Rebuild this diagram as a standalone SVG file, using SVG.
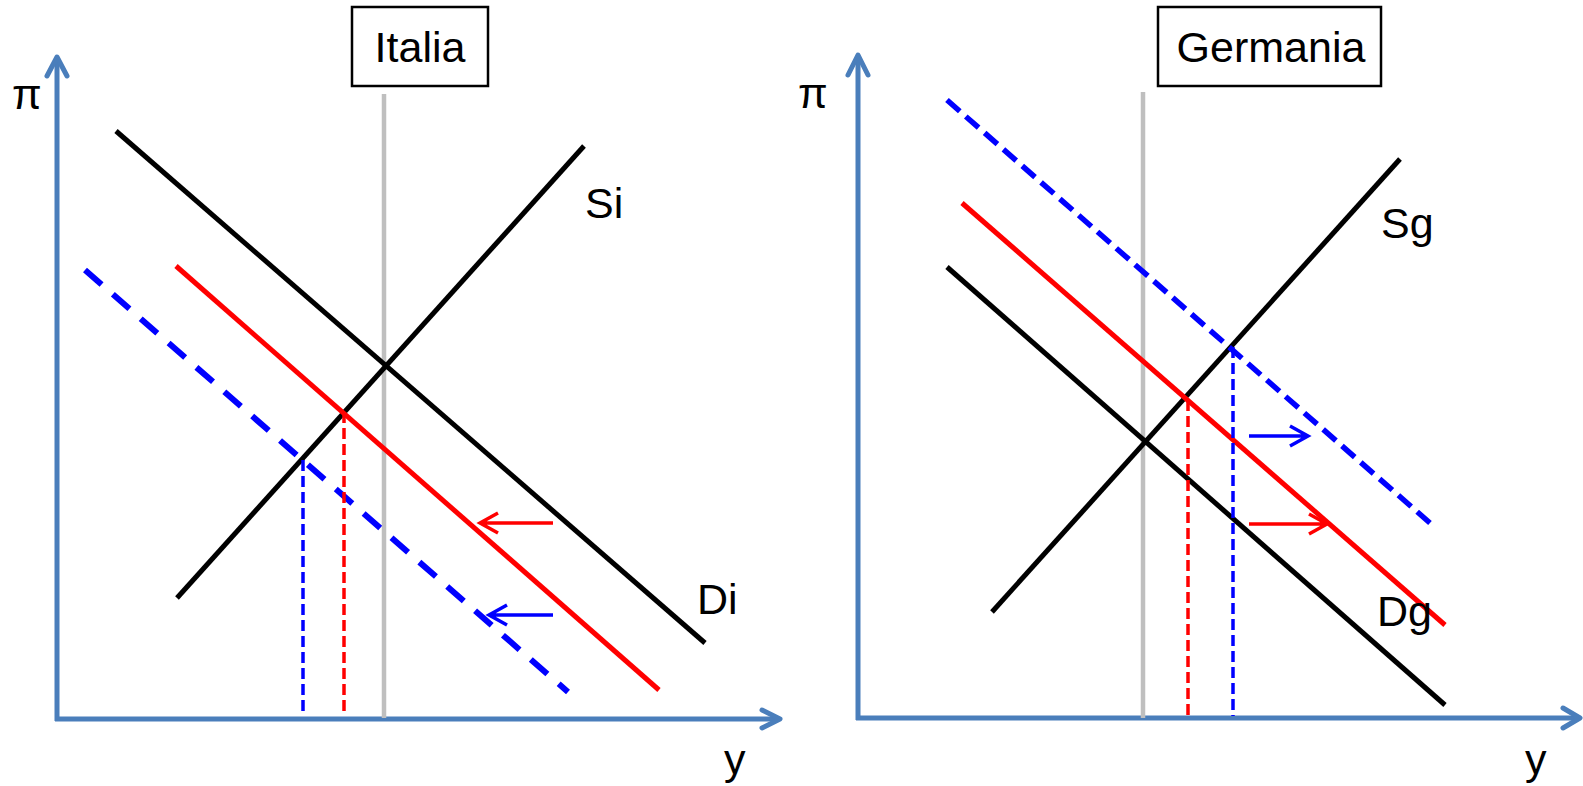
<svg xmlns="http://www.w3.org/2000/svg" width="1583" height="786" viewBox="0 0 1583 786">
<style>
.axis{stroke:#4A7EBB;stroke-width:5;fill:none}
.head{stroke:#4A7EBB;stroke-width:5;fill:none;stroke-linecap:round;stroke-linejoin:round}
.blk{stroke:#000;stroke-width:5;fill:none}
.red{stroke:#FF0000;stroke-width:5;fill:none}
.gray{stroke:#BFBFBF;stroke-width:4.5;fill:none}
.bdl{stroke:#0000FF;stroke-width:6;fill:none;stroke-dasharray:22 15}
.bdr{stroke:#0000FF;stroke-width:5.5;fill:none;stroke-dasharray:17 8}
.rv{stroke:#FF0000;stroke-width:3.5;fill:none;stroke-dasharray:11 5}
.bv{stroke:#0000FF;stroke-width:3.5;fill:none;stroke-dasharray:11 5}
.arR{stroke:#FF0000;stroke-width:3.5;fill:none}
.arB{stroke:#0000FF;stroke-width:3.5;fill:none}
.lbl{font-family:"Liberation Sans",Arial,sans-serif;font-size:43px;fill:#000}
.box{fill:#fff;stroke:#000;stroke-width:2.5}
</style>
<g id="italia-title">
<rect class="box" x="352" y="7" width="136" height="79"/>
<text class="lbl" x="420" y="62" text-anchor="middle">Italia</text>
</g>
<g id="germania-title">
<rect class="box" x="1158" y="7" width="223" height="79"/>
<text class="lbl" x="1271" y="62" text-anchor="middle">Germania</text>
</g>
<g id="axes-left">
<path class="axis" d="M57,721 V58 M55,719 H779"/>
<path class="head" d="M47,76 L57,57 L67,76"/>
<path class="head" d="M762,710 L780,719 L762,728"/>
<text class="lbl" x="12" y="109">π</text>
<text class="lbl" x="724" y="774">y</text>
</g>
<g id="axes-right">
<path class="axis" d="M858,720 V56 M856,718 H1578"/>
<path class="head" d="M848,75 L858,55 L868,75"/>
<path class="head" d="M1563,708 L1580,718 L1563,728"/>
<text class="lbl" x="798" y="108">π</text>
<text class="lbl" x="1525" y="774">y</text>
</g>
<g id="connectors">
<g id="italia-curves">
<line class="gray" x1="384" y1="94" x2="384" y2="718"/>
<line id="Di" class="blk" x1="116" y1="131" x2="705" y2="643"/>
<line id="Si" class="blk" x1="177" y1="598" x2="584" y2="146"/>
<line id="Di-red" class="red" x1="176" y1="266" x2="659" y2="690"/>
<line id="Di-blue" class="bdl" x1="85" y1="270" x2="568" y2="692"/>
<line class="rv" x1="344" y1="412" x2="344" y2="716"/>
<line class="bv" x1="303" y1="460" x2="303" y2="716"/>
<path class="arR" d="M553,523 H480 M498,513 L480,523 L498,533"/>
<path class="arB" d="M553,615 H489 M507,605 L489,615 L507,625"/>
</g>
<g id="germania-curves">
<line class="gray" x1="1143" y1="92" x2="1143" y2="718"/>
<line id="Dg" class="blk" x1="947" y1="267" x2="1445" y2="705"/>
<line id="Sg" class="blk" x1="992" y1="612" x2="1400" y2="159"/>
<line id="Dg-red" class="red" x1="962" y1="203" x2="1445" y2="625"/>
<line id="Dg-blue" class="bdr" x1="947" y1="100" x2="1430" y2="523"/>
<line class="rv" x1="1188" y1="400" x2="1188" y2="716"/>
<line class="bv" x1="1233" y1="347" x2="1233" y2="716"/>
<path class="arB" d="M1249,436 H1308 M1290,426 L1308,436 L1290,446"/>
<path class="arR" d="M1249,524 H1327 M1309,514 L1327,524 L1309,534"/>
</g>
</g>
<g id="labels">
<text class="lbl" x="585" y="218">Si</text>
<text class="lbl" x="697" y="614">Di</text>
<text class="lbl" x="1381" y="238">Sg</text>
<text class="lbl" x="1377" y="626">Dg</text>
</g>
</svg>
